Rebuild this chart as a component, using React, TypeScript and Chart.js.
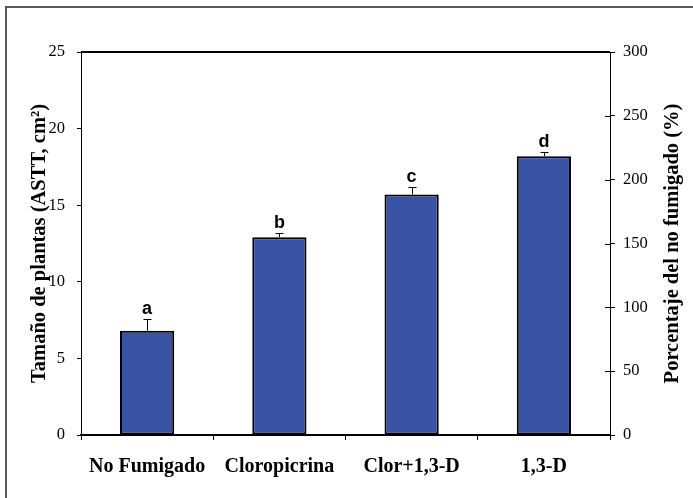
import React, { useEffect, useRef } from "react";
import { Chart, registerables } from "chart.js";

Chart.register(...registerables);

const categories = ["No Fumigado", "Cloropicrina", "Clor+1,3-D", "1,3-D"];
const plantSize = [6.8, 12.9, 15.7, 18.2];
const errorUp = [0.8, 0.3, 0.5, 0.3];
const letters = ["a", "b", "c", "d"];
const leftTitle = "Tamaño de plantas (ASTT, cm²)";
const rightTitle = "Porcentaje del no fumigado (%)";
const leftMax = 25;
const leftStep = 5;
const rightMax = 300;
const rightStep = 50;

const SERIF = "'Liberation Serif', 'Times New Roman', serif";
const SANS = "'Liberation Sans', Arial, sans-serif";

const decor = {
  id: "decor",
  beforeDraw(chart: any) {
    const ctx = chart.ctx;
    ctx.save();
    ctx.fillStyle = "#ffffff";
    ctx.fillRect(0, 0, chart.width, chart.height);
    ctx.strokeStyle = "#5a5a5a";
    ctx.lineWidth = 2;
    ctx.strokeRect(6, 7, chart.width + 20, chart.height + 20);
    ctx.restore();
  },
  afterDatasetsDraw(chart: any) {
    const ctx = chart.ctx;
    const meta = chart.getDatasetMeta(0);
    const y = chart.scales.y;
    ctx.save();
    meta.data.forEach((bar: any, i: number) => {
      const x = Math.round(bar.x) + 0.5;
      const base = y.getPixelForValue(plantSize[i]);
      const top = Math.round(y.getPixelForValue(plantSize[i] + errorUp[i])) + 0.5;
      ctx.strokeStyle = "#000";
      ctx.lineWidth = 1;
      ctx.beginPath();
      ctx.moveTo(x, base);
      ctx.lineTo(x, top);
      ctx.moveTo(x - 4, top);
      ctx.lineTo(x + 4, top);
      ctx.stroke();
      ctx.fillStyle = "#000";
      ctx.font = `bold 18px ${SANS}`;
      ctx.textAlign = "center";
      ctx.textBaseline = "alphabetic";
      ctx.fillText(letters[i], bar.x, top - 6);
    });
    ctx.restore();
  },
  afterDraw(chart: any) {
    const ctx = chart.ctx;
    const { left, right, top, bottom } = chart.chartArea;
    ctx.save();
    ctx.strokeStyle = "#000";
    ctx.lineWidth = 2;
    ctx.beginPath();
    ctx.moveTo(left, top);
    ctx.lineTo(right, top);
    ctx.stroke();
    // inner ticks on right axis
    const y1 = chart.scales.y1;
    ctx.lineWidth = 1;
    ctx.beginPath();
    y1.ticks.forEach((t: any) => {
      const py = Math.round(y1.getPixelForValue(t.value)) + 0.5;
      ctx.moveTo(right - 5, py);
      ctx.lineTo(right, py);
    });
    ctx.stroke();
    // titles
    ctx.fillStyle = "#000";
    ctx.font = `bold 20.5px ${SERIF}`;
    ctx.textAlign = "center";
    ctx.textBaseline = "middle";
    const cy = (top + bottom) / 2;
    ctx.save();
    ctx.translate(40, cy);
    ctx.rotate(-Math.PI / 2);
    ctx.fillText(leftTitle, 0, 0);
    ctx.restore();
    ctx.save();
    ctx.translate(673, cy);
    ctx.rotate(-Math.PI / 2);
    ctx.fillText(rightTitle, 0, 0);
    ctx.restore();
    ctx.restore();
  },
};

export default function App() {
  const ref = useRef<HTMLCanvasElement | null>(null);
  useEffect(() => {
    document.body.style.margin = "0";
    const canvas = ref.current;
    if (!canvas) return;
    const chart = new Chart(canvas, {
      type: "bar",
      data: {
        labels: categories,
        datasets: [
          {
            data: plantSize,
            backgroundColor: "#3953A4",
            borderColor: "#000000",
            borderWidth: 2,
            borderSkipped: false,
            barPercentage: 0.41,
            categoryPercentage: 1,
            yAxisID: "y",
          },
        ],
      },
      options: {
        animation: false,
        responsive: false,
        devicePixelRatio: 1,
        layout: { padding: { top: 52, left: 0, right: 0, bottom: 0 } },
        plugins: { legend: { display: false }, tooltip: { enabled: false } },
        scales: {
          x: {
            offset: true,
            grid: {
              offset: true,
              drawOnChartArea: false,
              drawTicks: true,
              tickLength: 5,
              color: "#000",
            },
            border: { color: "#000", width: 2 },
            ticks: {
              color: "#000",
              font: { family: SERIF, size: 20, weight: "bold" },
              padding: 15,
              maxRotation: 0,
              autoSkip: false,
            },
            afterFit: (s: any) => {
              s.height = 63;
            },
          },
          y: {
            position: "left",
            min: 0,
            max: leftMax,
            grid: {
              drawOnChartArea: false,
              drawTicks: true,
              tickLength: 4,
              color: "#000",
            },
            border: { color: "#000", width: 1 },
            ticks: {
              stepSize: leftStep,
              color: "#000",
              font: { family: SERIF, size: 16.5 },
              padding: 12,
            },
            afterFit: (s: any) => {
              s.width = 81;
            },
          },
          y1: {
            position: "right",
            min: 0,
            max: rightMax,
            grid: {
              drawOnChartArea: false,
              drawTicks: true,
              tickLength: 5,
              color: "#000",
            },
            border: { color: "#000", width: 1 },
            ticks: {
              stepSize: rightStep,
              color: "#000",
              font: { family: SERIF, size: 16.5 },
              padding: 8,
            },
            afterFit: (s: any) => {
              s.width = 83;
            },
          },
        },
      },
      plugins: [decor],
    });
    return () => chart.destroy();
  }, []);
  return (
    <canvas
      ref={ref}
      width={693}
      height={498}
      style={{ display: "block", width: 693, height: 498 }}
    />
  );
}
